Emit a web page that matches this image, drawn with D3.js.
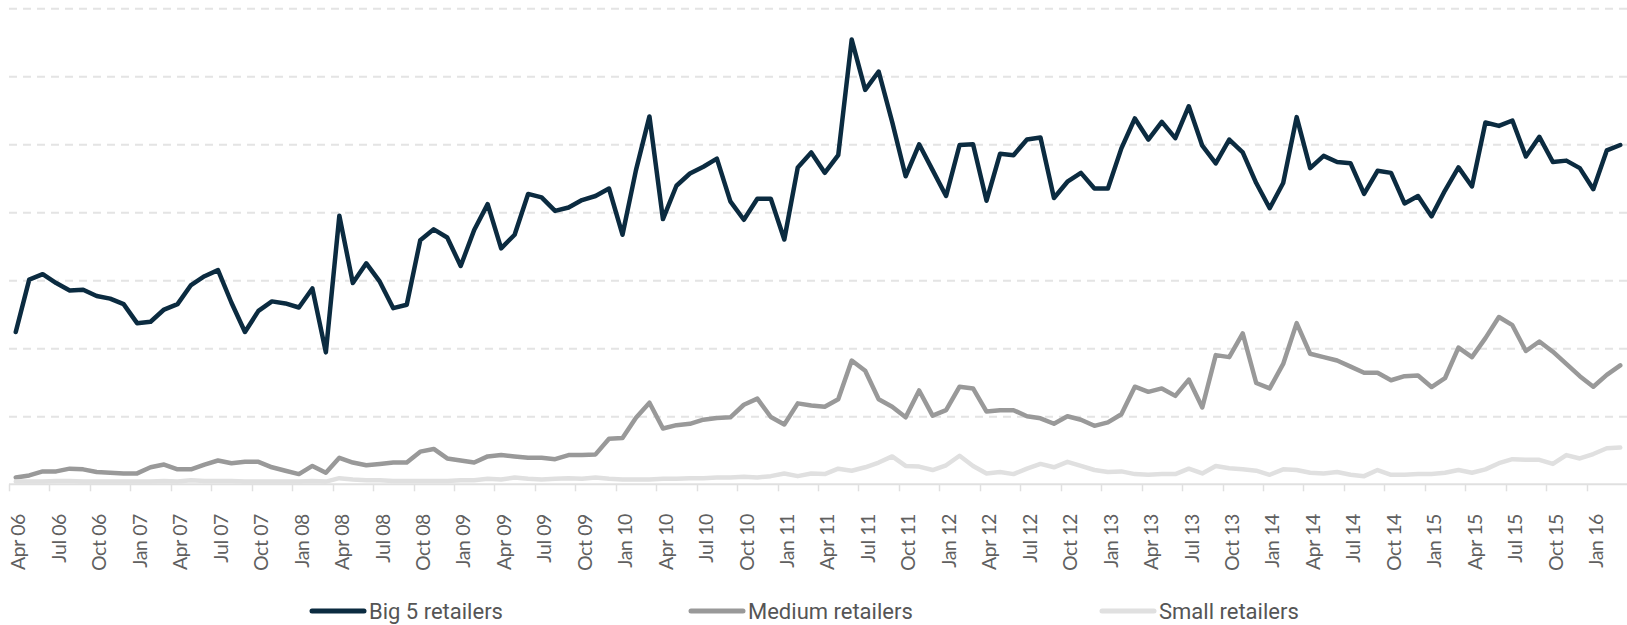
<!DOCTYPE html>
<html>
<head>
<meta charset="utf-8">
<script src="https://cdn.jsdelivr.net/npm/d3@7"></script>
<style>
  html, body { margin: 0; padding: 0; background: #ffffff; }
  svg { display: block; }
</style>
</head>
<body>
<svg id="chart" width="1627" height="625"></svg>
<script>
// Monthly series, April 2006 to March 2016
const monthNames = ["Jan","Feb","Mar","Apr","May","Jun","Jul","Aug","Sep","Oct","Nov","Dec"];
const months = [];
for (let k = 0; k < 120; k++) {
  const m = (3 + k) % 12;
  const y = 6 + Math.floor((3 + k) / 12);
  months.push(monthNames[m] + " " + String(y).padStart(2, "0"));
}

// Quarterly tick labels shown on the x axis
const tickLabels = months.filter((d, i) => i % 3 === 0);

const big5 = [
  22.4, 30.1, 30.9, 29.6, 28.5, 28.6, 27.7, 27.3, 26.5, 23.7,
  23.9, 25.7, 26.5, 29.3, 30.6, 31.5, 26.7, 22.4, 25.5, 26.9,
  26.6, 26.0, 28.8, 19.4, 39.5, 29.6, 32.5, 29.8, 25.9, 26.4,
  35.9, 37.5, 36.3, 32.1, 37.4, 41.2, 34.7, 36.7, 42.7, 42.2,
  40.2, 40.7, 41.8, 42.4, 43.5, 36.7, 46.2, 54.1, 39.0, 43.9,
  45.7, 46.7, 47.9, 41.6, 38.9, 42.0, 42.0, 36.0, 46.6, 48.8,
  45.8, 48.4, 65.4, 58.0, 60.7, 53.3, 45.3, 50.0, 46.2, 42.4,
  49.9, 50.0, 41.7, 48.6, 48.4, 50.7, 51.0, 42.1, 44.5, 45.8,
  43.5, 43.5, 49.4, 53.8, 50.7, 53.3, 50.9, 55.6, 49.8, 47.2,
  50.7, 48.8, 44.3, 40.6, 44.3, 54.0, 46.5, 48.3, 47.4, 47.2,
  42.7, 46.1, 45.8, 41.3, 42.4, 39.4, 43.2, 46.6, 43.8, 53.2,
  52.7, 53.5, 48.2, 51.1, 47.4, 47.6, 46.5, 43.4, 49.1, 49.9
];

const medium = [
  1.0, 1.3, 1.9, 1.9, 2.3, 2.2, 1.8, 1.7, 1.6, 1.6,
  2.5, 2.9, 2.2, 2.2, 2.9, 3.5, 3.1, 3.3, 3.3, 2.5,
  2.0, 1.5, 2.7, 1.7, 3.9, 3.2, 2.8, 3.0, 3.2, 3.2,
  4.8, 5.2, 3.8, 3.5, 3.2, 4.1, 4.3, 4.1, 3.9, 3.9,
  3.7, 4.3, 4.3, 4.4, 6.7, 6.8, 9.8, 12.0, 8.2, 8.7,
  8.9, 9.5, 9.75, 9.85, 11.7, 12.6, 9.9, 8.8, 11.9, 11.6,
  11.4, 12.5, 18.2, 16.7, 12.5, 11.4, 9.85, 13.8, 10.1, 10.9,
  14.35, 14.1, 10.7, 10.9, 10.9, 10.0, 9.7, 8.9, 10.0, 9.5,
  8.6, 9.1, 10.3, 14.35, 13.6, 14.1, 13.0, 15.4, 11.3, 19.0,
  18.7, 22.2, 14.9, 14.1, 17.7, 23.7, 19.2, 18.7, 18.2, 17.3,
  16.4, 16.4, 15.3, 15.9, 16.0, 14.3, 15.6, 20.1, 18.7, 21.5,
  24.6, 23.4, 19.6, 21.0, 19.5, 17.7, 15.9, 14.35, 16.1, 17.5
];

const small = [
  0.4, 0.4, 0.4, 0.5, 0.5, 0.4, 0.4, 0.4, 0.4, 0.4,
  0.4, 0.5, 0.4, 0.6, 0.5, 0.5, 0.5, 0.4, 0.4, 0.4,
  0.4, 0.4, 0.5, 0.4, 0.9, 0.7, 0.6, 0.6, 0.5, 0.5,
  0.5, 0.5, 0.5, 0.6, 0.6, 0.8, 0.7, 1.0, 0.8, 0.7,
  0.8, 0.9, 0.8, 1.0, 0.8, 0.7, 0.7, 0.7, 0.8, 0.8,
  0.9, 0.9, 1.0, 1.0, 1.1, 1.0, 1.2, 1.6, 1.2, 1.6,
  1.5, 2.3, 2.0, 2.5, 3.2, 4.1, 2.7, 2.6, 2.1, 2.8,
  4.2, 2.7, 1.6, 1.8, 1.5, 2.3, 3.0, 2.5, 3.3, 2.7,
  2.1, 1.8, 1.9, 1.5, 1.4, 1.5, 1.5, 2.3, 1.6, 2.7,
  2.35, 2.2, 2.0, 1.4, 2.2, 2.1, 1.7, 1.6, 1.8, 1.4,
  1.2, 2.1, 1.4, 1.4, 1.5, 1.5, 1.7, 2.1, 1.7, 2.2,
  3.1, 3.7, 3.6, 3.6, 3.0, 4.3, 3.8, 4.45, 5.3, 5.4
];

const gridValues = [10, 20, 30, 40, 50, 60, 70];

const seriesNames = ["Big 5 retailers", "Medium retailers", "Small retailers"];
const seriesColors = ["#0b2b40", "#999999", "#e0e0e0"];

const series = [
  { name: seriesNames[0], color: seriesColors[0], values: big5 },
  { name: seriesNames[1], color: seriesColors[1], values: medium },
  { name: seriesNames[2], color: seriesColors[2], values: small }
];

// Plot geometry
const plot = { left: 9, right: 1627, top: 8.3, bottom: 484.3 };

const svg = d3.select("#chart");

const x = d3.scaleBand()
  .domain(months)
  .range([plot.left, plot.right])
  .paddingInner(0).paddingOuter(0);

const y = d3.scaleLinear()
  .domain([0, 70])
  .range([plot.bottom, plot.top]);

const cx = d => x(d) + x.bandwidth() / 2;

// Dashed horizontal gridlines
const grid = svg.append("g")
  .attr("transform", `translate(${plot.left},0)`)
  .call(d3.axisLeft(y).tickValues(gridValues).tickSize(-(plot.right - plot.left)).tickFormat(""));
grid.select(".domain").remove();
grid.selectAll(".tick line")
  .attr("stroke", "#e4e4e4")
  .attr("stroke-width", 2)
  .attr("stroke-dasharray", "8,6");

// X axis baseline
svg.append("line")
  .attr("x1", plot.left).attr("x2", plot.right)
  .attr("y1", plot.bottom).attr("y2", plot.bottom)
  .attr("stroke", "#e0e0e0")
  .attr("stroke-width", 2);

// Quarterly tick marks sit at the start of each labelled month
svg.append("g")
  .selectAll("line")
  .data(tickLabels)
  .join("line")
  .attr("x1", d => Math.round(x(d)) + 0.5)
  .attr("x2", d => Math.round(x(d)) + 0.5)
  .attr("y1", plot.bottom)
  .attr("y2", plot.bottom + 7)
  .attr("stroke", "#e0e0e0")
  .attr("stroke-width", 1.5);

// Rotated tick labels
svg.append("g")
  .selectAll("text")
  .data(tickLabels)
  .join("text")
  .attr("transform", d => `translate(${cx(d)},514) rotate(-90)`)
  .attr("text-anchor", "end")
  .attr("dy", "0.5em")
  .attr("font-family", "Lato, sans-serif")
  .attr("font-size", 19.5)
  .attr("letter-spacing", -0.4)
  .attr("fill", "#606060")
  .text(d => d);

// Series lines
const line = d3.line()
  .x((d, i) => cx(months[i]))
  .y(d => y(d));

svg.append("g")
  .selectAll("path")
  .data(series)
  .join("path")
  .attr("d", s => line(s.values))
  .attr("fill", "none")
  .attr("stroke", s => s.color)
  .attr("stroke-width", 4.5)
  .attr("stroke-linejoin", "round")
  .attr("stroke-linecap", "round");

// Legend
const legendX = [312, 691, 1102];
const legend = svg.append("g")
  .selectAll("g")
  .data(series)
  .join("g")
  .attr("transform", (s, i) => `translate(${legendX[i]},611)`);

legend.append("line")
  .attr("x1", 0).attr("x2", 52)
  .attr("y1", 0).attr("y2", 0)
  .attr("stroke", s => s.color)
  .attr("stroke-width", 5)
  .attr("stroke-linecap", "round");

legend.append("text")
  .attr("x", 57)
  .attr("y", 0)
  .attr("dy", "0.35em")
  .attr("font-family", "'Liberation Sans Narrow', 'Roboto', sans-serif")
  .attr("font-size", 22)
  .attr("fill", "#555555")
  .text(s => s.name);
</script>
</body>
</html>
